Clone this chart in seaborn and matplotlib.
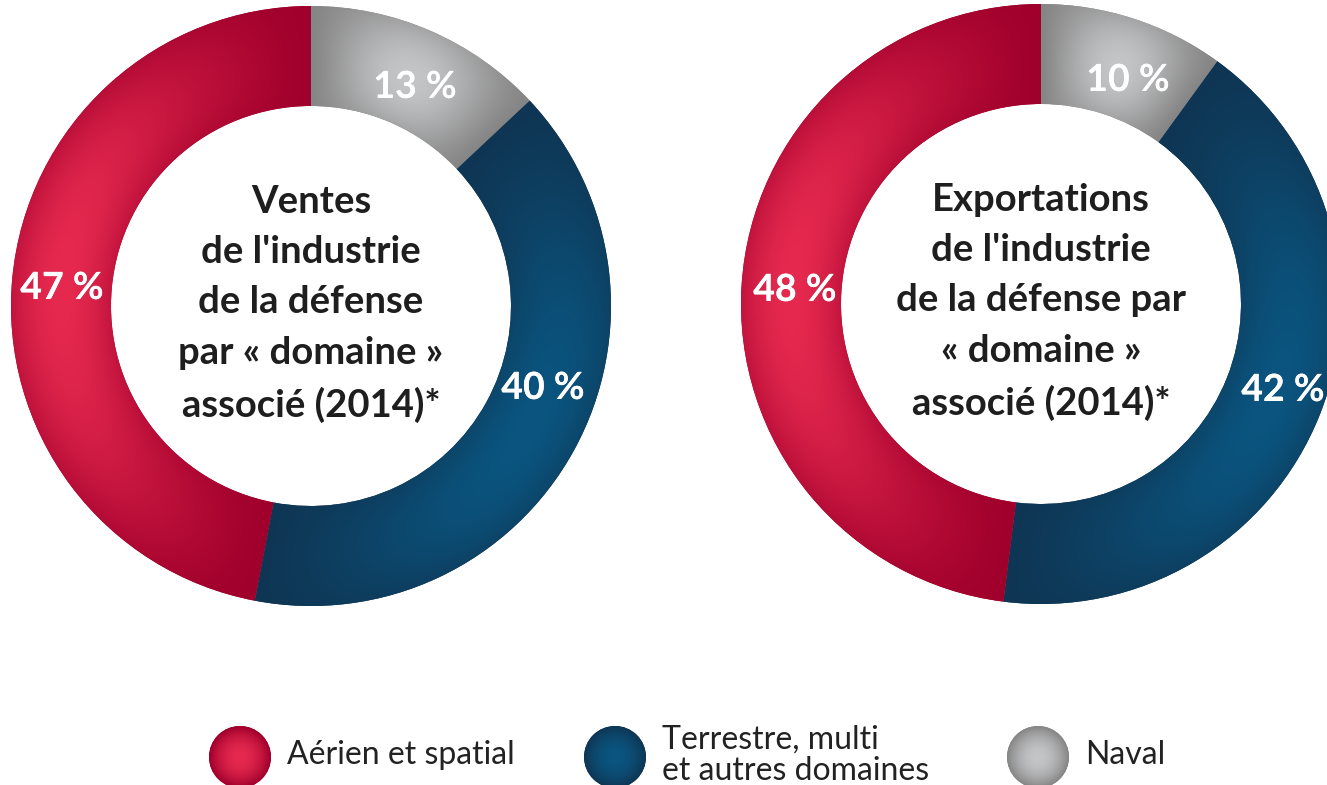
import numpy as np
import matplotlib
matplotlib.use("Agg")
import matplotlib.pyplot as plt
import matplotlib.patheffects as pe
from matplotlib.patches import Circle
import seaborn as sns

# data
categories = ["Naval", "Terrestre, multi et autres domaines", "Aérien et spatial"]
ventes = [13, 40, 47]
exports = [10, 42, 48]
titles = ["Ventes\nde l'industrie\nde la défense\npar « domaine »\nassocié (2014)*",
          "Exportations\nde l'industrie\nde la défense par\n« domaine »\nassocié (2014)*"]
legend_labels = ["Aérien et spatial", "Terrestre, multi\net autres domaines", "Naval"]

# dark / light shade per category (naval, terrestre, aerien)
dark = sns.color_palette(["#858585", "#0f3654", "#a0002c"])
light = sns.color_palette(["#c4c5c7", "#0a5580", "#e6294f"])

sns.set_theme(style="white")
plt.rcParams["font.family"] = ["Lato", "DejaVu Sans"]

W, H = 1327, 785
fig = plt.figure(figsize=(W / 100, H / 100), dpi=100)
ax = fig.add_axes([0, 0, 1, 1])

R, HOLE = 300, 100
centers = [(311, H - 306), (1041, H - 304)]


def shade_wedge(w, c0, c1):
    cx, cy = w.center
    r = w.r
    xs = np.linspace(cx - r, cx + r, 400)
    ys = np.linspace(cy - r, cy + r, 400)
    X, Y = np.meshgrid(xs, ys)
    ang = np.degrees(np.arctan2(Y - cy, X - cx))
    t1, t2 = w.theta1, w.theta2
    rel = (ang - t1) % 360 / ((t2 - t1) % 360 or 360)
    rel = np.clip(rel, 0, 1)
    rho = np.hypot(X - cx, Y - cy)
    rm = r - w.width / 2
    rad = 1 - 0.5 * ((rho - rm) / (w.width / 2)) ** 2
    s = np.sin(np.pi * rel) ** 1.2 * rad
    s = np.clip(s, 0, 1)[..., None]
    img = np.array(c0) * (1 - s) + np.array(c1) * s
    im = ax.imshow(img, extent=(cx - r, cx + r, cy - r, cy + r), origin="lower",
                   interpolation="bilinear", zorder=2)
    im.set_clip_path(w)


label_xy = [[(415, 87), (543, 388), (62, 288)],
            [(1128, 80), (1283, 390), (795, 290)]]

for k, (vals, (cx, cy)) in enumerate(zip([ventes, exports], centers)):
    wedges, _ = ax.pie(vals, colors=dark, startangle=90, counterclock=False,
                       radius=R, center=(cx, cy), frame=True,
                       wedgeprops=dict(width=HOLE, linewidth=0))
    for i, w in enumerate(wedges):
        shade_wedge(w, dark[i], light[i])
        lx, ly = label_xy[k][i]
        ax.text(lx, H - ly, f"{vals[i]} %", color="white", fontsize=27,
                fontweight="bold", ha="center", va="center", zorder=5,
                path_effects=[pe.withSimplePatchShadow(offset=(0, 0), shadow_rgbFace="black", alpha=0.35),
                              pe.Normal()])
    ax.text(cx, cy + 2, titles[k], ha="center", va="center", fontsize=27.5,
            fontweight="bold", color="#1e1e1e", linespacing=1.58, zorder=5)

# legend swatches
leg_x = [240, 615, 1038]
leg_cols = [2, 1, 0]
for x, ci, lab in zip(leg_x, leg_cols, legend_labels):
    circ = Circle((x, H - 757), 31, facecolor=dark[ci], linewidth=0, zorder=2)
    ax.add_patch(circ)
    xs = np.linspace(x - 31, x + 31, 120)
    ys = np.linspace(H - 788, H - 726, 120)
    X, Y = np.meshgrid(xs, ys)
    d = np.clip(np.hypot(X - x, Y - (H - 757)) / 31, 0, 1)[..., None]
    img = np.array(light[ci]) * (1 - d ** 2) + np.array(dark[ci]) * d ** 2
    im = ax.imshow(img, extent=(x - 31, x + 31, H - 788, H - 726), origin="lower",
                   interpolation="bilinear", zorder=3)
    im.set_clip_path(circ)
    ax.text(x + 47, H - 755, lab, ha="left", va="center", fontsize=23,
            fontweight="normal", color="#222222", linespacing=1.08, zorder=5)

ax.set_xlim(0, W)
ax.set_ylim(0, H)
ax.set_aspect("equal")
ax.axis("off")
fig.savefig("out.png", dpi=100, facecolor="white")
